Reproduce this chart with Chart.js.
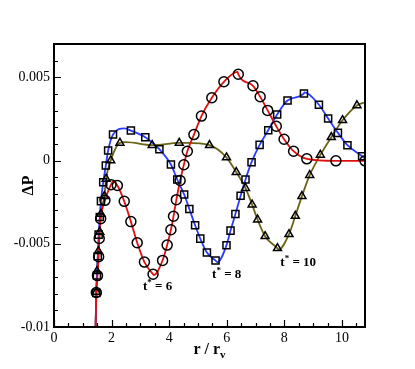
<!DOCTYPE html>
<html>
<head>
<meta charset="utf-8">
<script src="https://cdn.jsdelivr.net/npm/chart.js"></script>
<style>
  body { margin: 0; background: #fff; }
  canvas { display: block; }
</style>
</head>
<body>
<canvas id="pressureChart" width="415" height="369"></canvas>
<script>
const xTicks = [0, 2, 4, 6, 8, 10];
const yTicks = [-0.01, -0.005, 0, 0.005];
const yTickLabels = ['-0.01', '-0.005', '0', '0.005'];

// t* = 6 (red, circles)
const t6X = [1.47, 1.51, 1.55, 1.57, 1.62, 1.77, 1.98, 2.20, 2.44, 2.67, 2.89, 3.14, 3.44, 3.77, 3.93, 4.06, 4.15, 4.25, 4.38, 4.51, 4.63, 4.86, 5.12, 5.48, 5.90, 6.40, 6.91, 7.16, 7.42, 7.72, 7.99, 8.32, 8.78, 9.79, 10.80];
const t6Y = [-7.93e-3, -6.91e-3, -5.78e-3, -4.68e-3, -3.49e-3, -2.39e-3, -1.45e-3, -1.50e-3, -2.45e-3, -3.67e-3, -4.94e-3, -6.10e-3, -6.83e-3, -6.00e-3, -5.08e-3, -4.16e-3, -3.35e-3, -2.35e-3, -1.20e-3, -0.25e-3, 0.56e-3, 1.56e-3, 2.67e-3, 3.77e-3, 4.73e-3, 5.18e-3, 4.49e-3, 3.83e-3, 3.01e-3, 2.06e-3, 1.28e-3, 0.56e-3, 0.10e-3, -0.02e-3, -0.02e-3];
// extra points of the red line (start, peaks)
const t6LineX = [1.44, 2.06, 3.47, 6.38];
const t6LineY = [-10.4e-3, -1.25e-3, -6.88e-3, 5.32e-3];

// t* = 8 (blue, squares)
const t8X = [1.47, 1.49, 1.52, 1.55, 1.59, 1.63, 1.71, 1.80, 1.88, 2.05, 2.67, 3.17, 3.66, 4.06, 4.28, 4.52, 4.70, 4.90, 5.08, 5.31, 5.61, 5.99, 6.13, 6.30, 6.48, 6.65, 6.86, 7.14, 7.44, 7.75, 8.11, 8.68, 9.20, 9.52, 9.86, 10.19, 10.70];
const t8Y = [-7.96e-3, -6.91e-3, -5.75e-3, -4.45e-3, -3.39e-3, -2.44e-3, -1.30e-3, -0.30e-3, 0.60e-3, 1.56e-3, 1.80e-3, 1.40e-3, 0.68e-3, -0.24e-3, -1.14e-3, -2.04e-3, -2.91e-3, -3.89e-3, -4.69e-3, -5.53e-3, -6.01e-3, -5.09e-3, -4.21e-3, -3.21e-3, -2.12e-3, -1.14e-3, -0.10e-3, 0.94e-3, 1.82e-3, 2.77e-3, 3.61e-3, 4.03e-3, 3.35e-3, 2.52e-3, 1.66e-3, 0.92e-3, 0.26e-3];
const t8LineX = [1.44, 2.45, 5.68, 8.70, 10.80];
const t8LineY = [-10.4e-3, 1.93e-3, -6.10e-3, 4.10e-3, 0.12e-3];

// t* = 10 (olive, triangles)
const t10X = [1.47, 1.49, 1.54, 1.59, 1.63, 1.75, 1.81, 1.97, 2.29, 3.41, 4.35, 5.40, 5.99, 6.33, 6.65, 6.88, 7.07, 7.33, 7.76, 8.16, 8.38, 8.61, 8.88, 9.25, 9.63, 10.02, 10.52];
const t10Y = [-7.90e-3, -6.65e-3, -5.45e-3, -4.29e-3, -3.21e-3, -2.14e-3, -1.10e-3, 0.00e-3, 1.06e-3, 0.92e-3, 1.06e-3, 0.92e-3, 0.18e-3, -0.70e-3, -1.66e-3, -2.65e-3, -3.55e-3, -4.55e-3, -5.27e-3, -4.43e-3, -3.33e-3, -2.14e-3, -0.88e-3, 0.34e-3, 1.40e-3, 2.42e-3, 3.31e-3];
const t10LineX = [1.44, 2.50, 4.60, 7.80, 10.80];
const t10LineY = [-10.4e-3, 1.10e-3, 1.06e-3, -5.35e-3, 3.50e-3];

const curveLabels = [
    { text: '6', x: 3.09, y: -7.77e-3 },
    { text: '8', x: 5.49, y: -7.05e-3 },
    { text: '10', x: 7.86, y: -6.33e-3 }
];

const serif = '"Liberation Serif", "Times New Roman", serif';

function toPoints(xs, ys) {
    return xs.map((x, i) => ({ x: x, y: ys[i] }));
}

function linePoints(xs, ys, extraX, extraY) {
    return toPoints(xs, ys).concat(toPoints(extraX, extraY)).sort((a, b) => a.x - b.x);
}

function lineSet(points, color) {
    return {
        data: points,
        showLine: true,
        borderColor: color,
        borderWidth: 1.8,
        pointRadius: 0,
        cubicInterpolationMode: 'monotone',
        order: 1
    };
}

function markerSet(points, style, radius) {
    return {
        data: points,
        showLine: false,
        pointStyle: style,
        pointRadius: radius,
        pointBorderColor: '#000',
        pointBorderWidth: 1.5,
        pointBackgroundColor: 'rgba(0,0,0,0)',
        order: 0
    };
}

const framePlugin = {
    id: 'frame',
    afterDraw(chart) {
        const ctx = chart.ctx;
        const area = chart.chartArea;
        const xs = chart.scales.x;
        const ys = chart.scales.y;
        ctx.save();
        ctx.strokeStyle = '#000';

        // inward ticks
        ctx.lineWidth = 1.2;
        ctx.beginPath();
        for (let v = 0; v <= 10.8; v += 0.5) {
            const px = Math.round(xs.getPixelForValue(v)) + 0.5;
            const len = (Math.abs(v % 2) < 1e-6) ? 7 : 4;
            ctx.moveTo(px, area.bottom);
            ctx.lineTo(px, area.bottom - len);
        }
        for (let k = -10; k <= 7; k++) {
            const v = k * 0.001;
            const py = Math.round(ys.getPixelForValue(v)) + 0.5;
            const len = (k % 5 === 0) ? 7 : 4;
            ctx.moveTo(area.left, py);
            ctx.lineTo(area.left + len, py);
        }
        ctx.stroke();

        // frame
        ctx.lineWidth = 2;
        ctx.strokeRect(area.left, area.top, area.right - area.left, area.bottom - area.top);

        // axis titles
        ctx.fillStyle = '#000';
        ctx.textBaseline = 'alphabetic';
        const main = 'r / r';
        ctx.font = 'bold 11px ' + serif;
        const subW = ctx.measureText('v').width;
        ctx.font = 'bold 16px ' + serif;
        const mainW = ctx.measureText(main).width;
        let tx = (area.left + area.right) / 2 - (mainW + subW) / 2;
        ctx.textAlign = 'left';
        ctx.fillText(main, tx, 354);
        ctx.font = 'bold 11px ' + serif;
        ctx.fillText('v', tx + mainW, 358);

        ctx.save();
        ctx.translate(33, (area.top + area.bottom) / 2);
        ctx.rotate(-Math.PI / 2);
        ctx.font = 'bold 16px ' + serif;
        ctx.textAlign = 'center';
        ctx.fillText('\u0394P', 0, 0);
        ctx.restore();

        // curve labels
        curveLabels.forEach(lab => {
            let px = xs.getPixelForValue(lab.x);
            const py = ys.getPixelForValue(lab.y);
            ctx.textAlign = 'left';
            ctx.font = 'bold 13px ' + serif;
            ctx.fillText('t', px, py);
            px += ctx.measureText('t').width;
            ctx.font = 'bold 9px ' + serif;
            ctx.fillText('*', px, py - 5);
            px += ctx.measureText('*').width;
            ctx.font = 'bold 13px ' + serif;
            ctx.fillText(' = ' + lab.text, px, py);
        });
        ctx.restore();
    }
};

new Chart('pressureChart', {
    type: 'scatter',
    data: {
        datasets: [
            markerSet(toPoints(t6X, t6Y), 'circle', 5),
            markerSet(toPoints(t8X, t8Y), 'rect', 5),
            markerSet(toPoints(t10X, t10Y), 'triangle', 4.6),
            lineSet(linePoints(t6X, t6Y, t6LineX, t6LineY), '#e01010'),
            lineSet(linePoints(t8X, t8Y, t8LineX, t8LineY), '#2a3cff'),
            lineSet(linePoints(t10X, t10Y, t10LineX, t10LineY), '#6b6414')
        ]
    },
    options: {
        responsive: false,
        animation: false,
        layout: { padding: { top: 44, right: 50, left: 0, bottom: 0 } },
        plugins: {
            legend: { display: false },
            tooltip: { enabled: false }
        },
        scales: {
            x: {
                type: 'linear',
                min: 0,
                max: 10.8,
                afterBuildTicks: s => { s.ticks = xTicks.map(v => ({ value: v })); },
                afterFit: s => { s.height = 42; },
                grid: { display: false, drawTicks: false },
                border: { display: false },
                ticks: {
                    color: '#000',
                    padding: 3,
                    maxRotation: 0,
                    font: { family: serif, size: 14 },
                    callback: v => String(v)
                }
            },
            y: {
                type: 'linear',
                min: -0.01,
                max: 0.007,
                afterBuildTicks: s => { s.ticks = yTicks.map(v => ({ value: v })); },
                afterFit: s => { s.width = 54; },
                grid: { display: false, drawTicks: false },
                border: { display: false },
                ticks: {
                    color: '#000',
                    padding: 4,
                    font: { family: serif, size: 14 },
                    callback: v => yTickLabels[yTicks.findIndex(t => Math.abs(t - v) < 1e-9)]
                }
            }
        }
    },
    plugins: [framePlugin]
});
</script>
</body>
</html>
